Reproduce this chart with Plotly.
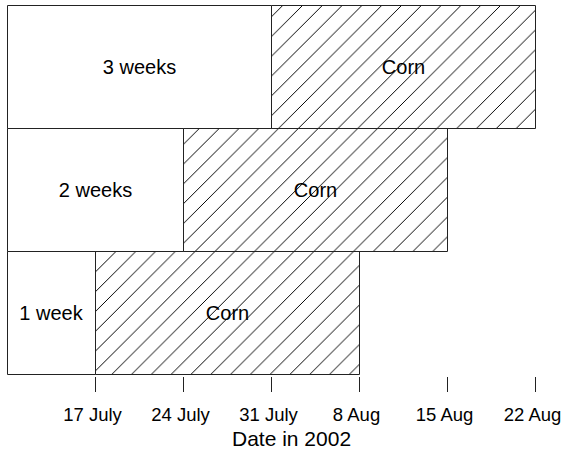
import plotly.graph_objects as go

# Rows of the timeline (bottom to top) and their durations, in weeks relative to 17 July
rows = ["1 week", "2 weeks", "3 weeks"]
period_start = [-1, -1, -1]
corn_start = [0, 1, 2]
corn_end = [3, 4, 5]

# Axis ticks, one per week
tick_vals = [0, 1, 2, 3, 4, 5]
tick_text = ["17 July", "24 July", "31 July", "8 Aug", "15 Aug", "22 Aug"]

FONT = "Liberation Sans, Arial, Helvetica, sans-serif"
INK = "#222222"

period_len = [c - s for s, c in zip(period_start, corn_start)]
corn_len = [e - s for s, e in zip(corn_start, corn_end)]

fig = go.Figure()

# White boxes: the pre-corn period for each row
fig.add_trace(go.Bar(
    y=rows, x=period_len, base=period_start, orientation="h", width=1,
    marker=dict(color="white", line=dict(color=INK, width=1)),
    text=rows, textposition="inside", insidetextanchor="middle",
    textangle=0, constraintext="none",
    textfont=dict(family=FONT, size=20, color="black"),
    hoverinfo="skip", showlegend=False,
))

# Hatched boxes: the corn period
fig.add_trace(go.Bar(
    y=rows, x=corn_len, base=corn_start, orientation="h", width=1,
    marker=dict(
        color="white", line=dict(color=INK, width=1),
        pattern=dict(shape="/", size=14, solidity=0.07,
                     fgcolor="#000000", bgcolor="white", fillmode="replace"),
    ),
    text=["Corn"] * len(rows), textposition="inside", insidetextanchor="middle",
    textangle=0, constraintext="none",
    textfont=dict(family=FONT, size=20, color="black"),
    hoverinfo="skip", showlegend=False,
))

fig.update_layout(
    width=563, height=450,
    margin=dict(l=6, r=27, t=5, b=74, autoexpand=False),
    paper_bgcolor="white", plot_bgcolor="white",
    barmode="overlay", bargap=0,
    font=dict(family=FONT, color="black"),
    xaxis=dict(
        range=[-1.017, 5.0057], tickmode="array",
        tickvals=tick_vals, ticktext=tick_text,
        ticks="outside", ticklen=15, tickwidth=1, tickcolor=INK,
        ticklabelstandoff=7, ticklabelshift=-3,
        ticklabeloverflow="allow", automargin=False,
        tickfont=dict(family=FONT, size=18.5, color="black"),
        showline=False, showgrid=False, zeroline=False, fixedrange=True,
    ),
    yaxis=dict(
        type="category", categoryorder="array", categoryarray=rows,
        range=[-0.508, 2.508], visible=False, fixedrange=True,
        automargin=False,
    ),
    annotations=[dict(
        text="Date in 2002", xref="paper", yref="paper",
        x=0.5396, y=-0.1685, xanchor="center", yanchor="middle",
        showarrow=False, font=dict(family=FONT, size=21, color="black"),
    )],
)

fig.write_html("out.html")
